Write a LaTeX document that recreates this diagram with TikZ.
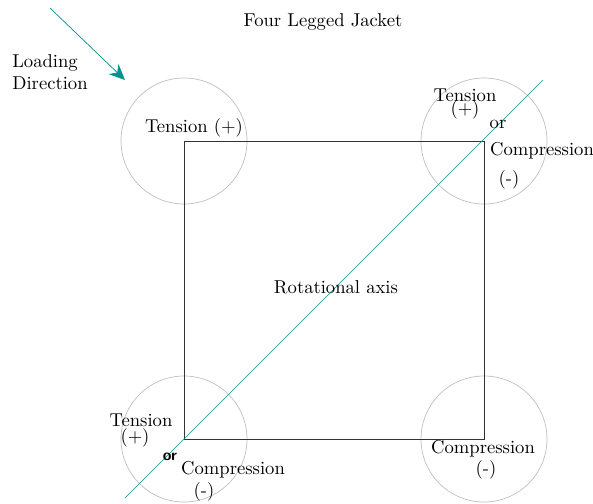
\documentclass[tikz,border=0pt]{standalone}
\usetikzlibrary{arrows.meta}
\definecolor{axisteal}{RGB}{0,145,145}
\tikzset{
  ring/.style={draw=black!25,thin},
  lbl/.style={inner sep=1pt,font=\fontsize{10.6}{12.7}\selectfont},
  orsans/.style={inner sep=1pt,font=\sffamily\bfseries\small}
}
\begin{document}
\begin{tikzpicture}[x=0.02cm,y=-0.02cm]
  \useasboundingbox (0,0) rectangle (593,504);
  % corners of the jacket
  \coordinate (tl) at (184,141);
  \coordinate (tr) at (484,141);
  \coordinate (bl) at (184,439);
  \coordinate (br) at (484,439);
  \foreach \c in {tl,tr,bl,br} \draw[ring] (\c) circle (63);
  \draw[black!80] (tl) -- (tr) -- (br) -- (bl) -- cycle;
  % rotational axis and load
  \coordinate (axA) at (125,498);
  \coordinate (axB) at (543,80);
  \draw[axisteal] (axA) -- (axB);
  \coordinate (ldA) at (50,8);
  \coordinate (ldB) at (125,80);
  \draw[axisteal,-{Stealth[length=9pt,width=8pt]}] (ldA) -- (ldB);
  \node[lbl] (title) at (323,22) {Four Legged Jacket};
  \node[lbl,align=left] (load) at (50,72) {Loading\\Direction};
  \node[lbl] (rot) at (336,287) {Rotational axis};
  \node[lbl] (tlT) at (194,128) {Tension (+)};
  % top right
  \node[lbl] (trT) at (465,95) {Tension};
  \node[lbl] (trP) at (465,110) {(+)};
  \node[lbl] (trO) at (498,124) {or};
  \node[lbl] (trC) at (542,151) {Compression};
  \node[lbl] (trM) at (509,180) {(-)};
  % bottom left
  \node[lbl] (blT) at (141,420) {Tension};
  \node[lbl] (blP) at (135,438) {(+)};
  \node[orsans] (blO) at (170,457) {or};
  \node[lbl] (blC) at (233,470) {Compression};
  \node[lbl] (blM) at (204,492) {(-)};
  % bottom right
  \node[lbl] (brC) at (483,449) {Compression};
  \node[lbl] (brM) at (486,470) {(-)};
\end{tikzpicture}
\end{document}
